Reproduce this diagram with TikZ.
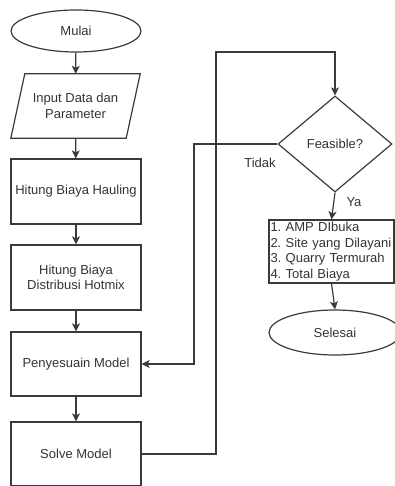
\documentclass[tikz,border=0pt]{standalone}
\usepackage{fontspec}
\setmainfont{Liberation Sans}
\usetikzlibrary{shapes.geometric,arrows.meta}
\definecolor{ln}{HTML}{3A3A3A}
\definecolor{tx}{HTML}{333333}
\frenchspacing
\hyphenpenalty=10000
\begin{document}
\begin{tikzpicture}[x=1pt,y=-1pt,
  every node/.style={font=\fontsize{13}{15.5}\selectfont, text=tx},
  proc/.style={draw=ln, line width=1.2pt, rectangle, minimum width=130pt, align=center, inner sep=1pt},
  term/.style={draw=ln, line width=1.2pt, ellipse, inner sep=0pt},
  conn/.style={draw=ln, line width=1.2pt},
  arr/.style={conn, -{Stealth[length=8pt,width=8pt,inset=2pt]}}]
\useasboundingbox (0,0) rectangle (395,486);
\clip (0,0) rectangle (395,486);
\node[term, minimum width=130pt, minimum height=42pt] (start) at (76,31) {Mulai};
\node[minimum width=129pt, minimum height=64pt, align=center, inner sep=0pt] (inp) at (75.5,106) {Input Data dan\\Parameter};
\draw[conn] ([xshift=14pt]inp.north west) -- (inp.north east) -- ([xshift=-14pt]inp.south east) -- (inp.south west) -- cycle;
\node[proc, minimum height=65pt] (haul) at (76,191.5) {Hitung Biaya Hauling};
\node[proc, minimum height=65pt] (dist) at (76,277.5) {Hitung Biaya\\Distribusi Hotmix};
\node[proc, minimum height=64pt] (peny) at (76,364) {Penyesuain Model};
\node[proc, minimum height=64pt] (solve) at (76,454) {Solve Model};
\node[draw=ln, line width=1.2pt, diamond, minimum width=114pt, minimum height=96pt, inner sep=0pt] (dia) at (335,144) {Feasible?};
\node[draw=ln, line width=1.2pt, rectangle, minimum width=125pt, minimum height=63pt, inner xsep=1.5pt, inner ysep=1pt, text width=122pt, align=left] (res) at (331.5,251.5) {1. AMP DIbuka\\2. Site yang Dilayani\\3. Quarry Termurah\\4. Total Biaya};
\node[term, minimum width=132pt, minimum height=45pt] (end) at (335,332.5) {Selesai};
\coordinate (c1) at (216,52);
\coordinate (c2) at (194,144);
\draw[arr] (start) -- (inp);
\draw[arr] (inp) -- (haul);
\draw[arr] (haul) -- (dist);
\draw[arr] (dist) -- (peny);
\draw[arr] (peny) -- (solve);
\draw[arr] (solve.east) -| (c1) -| (dia.north);
\draw[arr] (dia.west) -- (c2) |- (peny.east);
\draw[arr] (dia.south) -- (res.north);
\draw[arr] (res.south) -- (end.north);
\node (tidak) at (260,163) {Tidak};
\node (ya) at (354,202) {Ya};
\end{tikzpicture}
\end{document}
